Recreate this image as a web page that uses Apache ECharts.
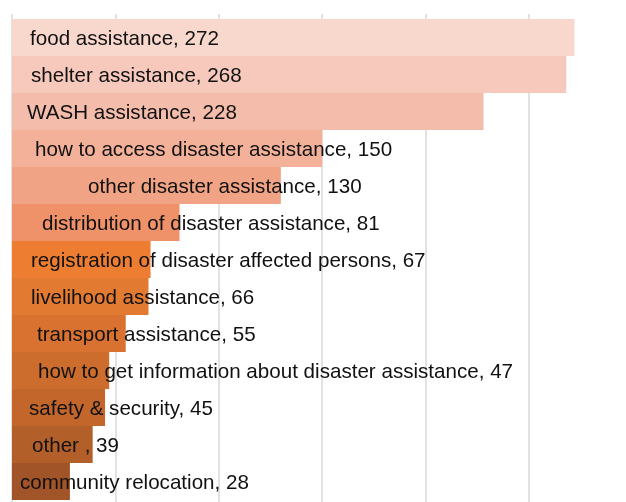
<!DOCTYPE html>
<html>
<head>
<meta charset="utf-8">
<script src="https://cdn.jsdelivr.net/npm/echarts@6/dist/echarts.min.js"></script>
<style>html,body{margin:0;padding:0;background:#fff;overflow:hidden;width:626px;height:502px;}#c{width:660px;height:502px;}</style>
</head>
<body>
<div id="c"></div>
<script>
const categories = [
  "food assistance",
  "shelter assistance",
  "WASH assistance",
  "how to access disaster assistance",
  "other disaster assistance",
  "distribution of disaster assistance",
  "registration of disaster affected persons",
  "livelihood assistance",
  "transport assistance",
  "how to get information about disaster assistance",
  "safety & security",
  "other ",
  "community relocation"
];
const values = [272, 268, 228, 150, 130, 81, 67, 66, 55, 47, 45, 39, 28];
const xTicks = [0, 50, 100, 150, 200, 250, 300];

// style only
const barColors = ["#F8D7CC","#F6C9BC","#F4BCAB","#F3B19A","#F1A385","#F09269","#ED7D31","#E27A31","#D97230","#CD6D2D","#C2662B","#B35F29","#A05427"];
const labelShift = [18, 19, 15, 23, 76, 30, 19, 19, 25, 26, 17, 20, 8];

const pxPerUnit = 2.068;
const gridLeft = 12;
const gridWidth = xTicks[xTicks.length-1] * pxPerUnit;

const chart = echarts.init(document.getElementById('c'), null, {renderer: 'canvas'});
const data = values.map((v, i) => ({
  value: v,
  itemStyle: {color: barColors[i]},
  label: {offset: [labelShift[i], 2]}
}));
chart.setOption({
  animation: false,
  grid: [
    {left: gridLeft, top: 14, width: gridWidth, height: 500, containLabel: false},
    {left: gridLeft, top: 19, width: gridWidth, height: 481, containLabel: false}
  ],
  xAxis: [
    {gridIndex: 0, type: 'value', min: 0, max: xTicks[xTicks.length-1], interval: 50,
     axisLine: {show: false}, axisTick: {show: false}, axisLabel: {show: false},
     splitLine: {show: true, lineStyle: {color: '#d9d9d9', width: 1.5}}},
    {gridIndex: 1, type: 'value', min: 0, max: xTicks[xTicks.length-1], interval: 50,
     axisLine: {show: false}, axisTick: {show: false}, axisLabel: {show: false},
     splitLine: {show: false}}
  ],
  yAxis: [
    {gridIndex: 0, type: 'category', data: ['a'], show: false},
    {gridIndex: 1, type: 'category', data: categories, inverse: true,
     axisLine: {show: false}, axisTick: {show: false}, axisLabel: {show: false}}
  ],
  series: [{
    type: 'bar',
    xAxisIndex: 1, yAxisIndex: 1,
    data: data,
    barCategoryGap: 0,
    barWidth: '100%',
    label: {
      show: true,
      position: 'insideLeft',
      distance: 0,
      color: '#111',
      fontFamily: 'Liberation Sans, Arial, sans-serif',
      fontSize: 20.6,
      formatter: p => categories[p.dataIndex] + ', ' + p.value
    }
  }]
});
</script>
</body>
</html>
